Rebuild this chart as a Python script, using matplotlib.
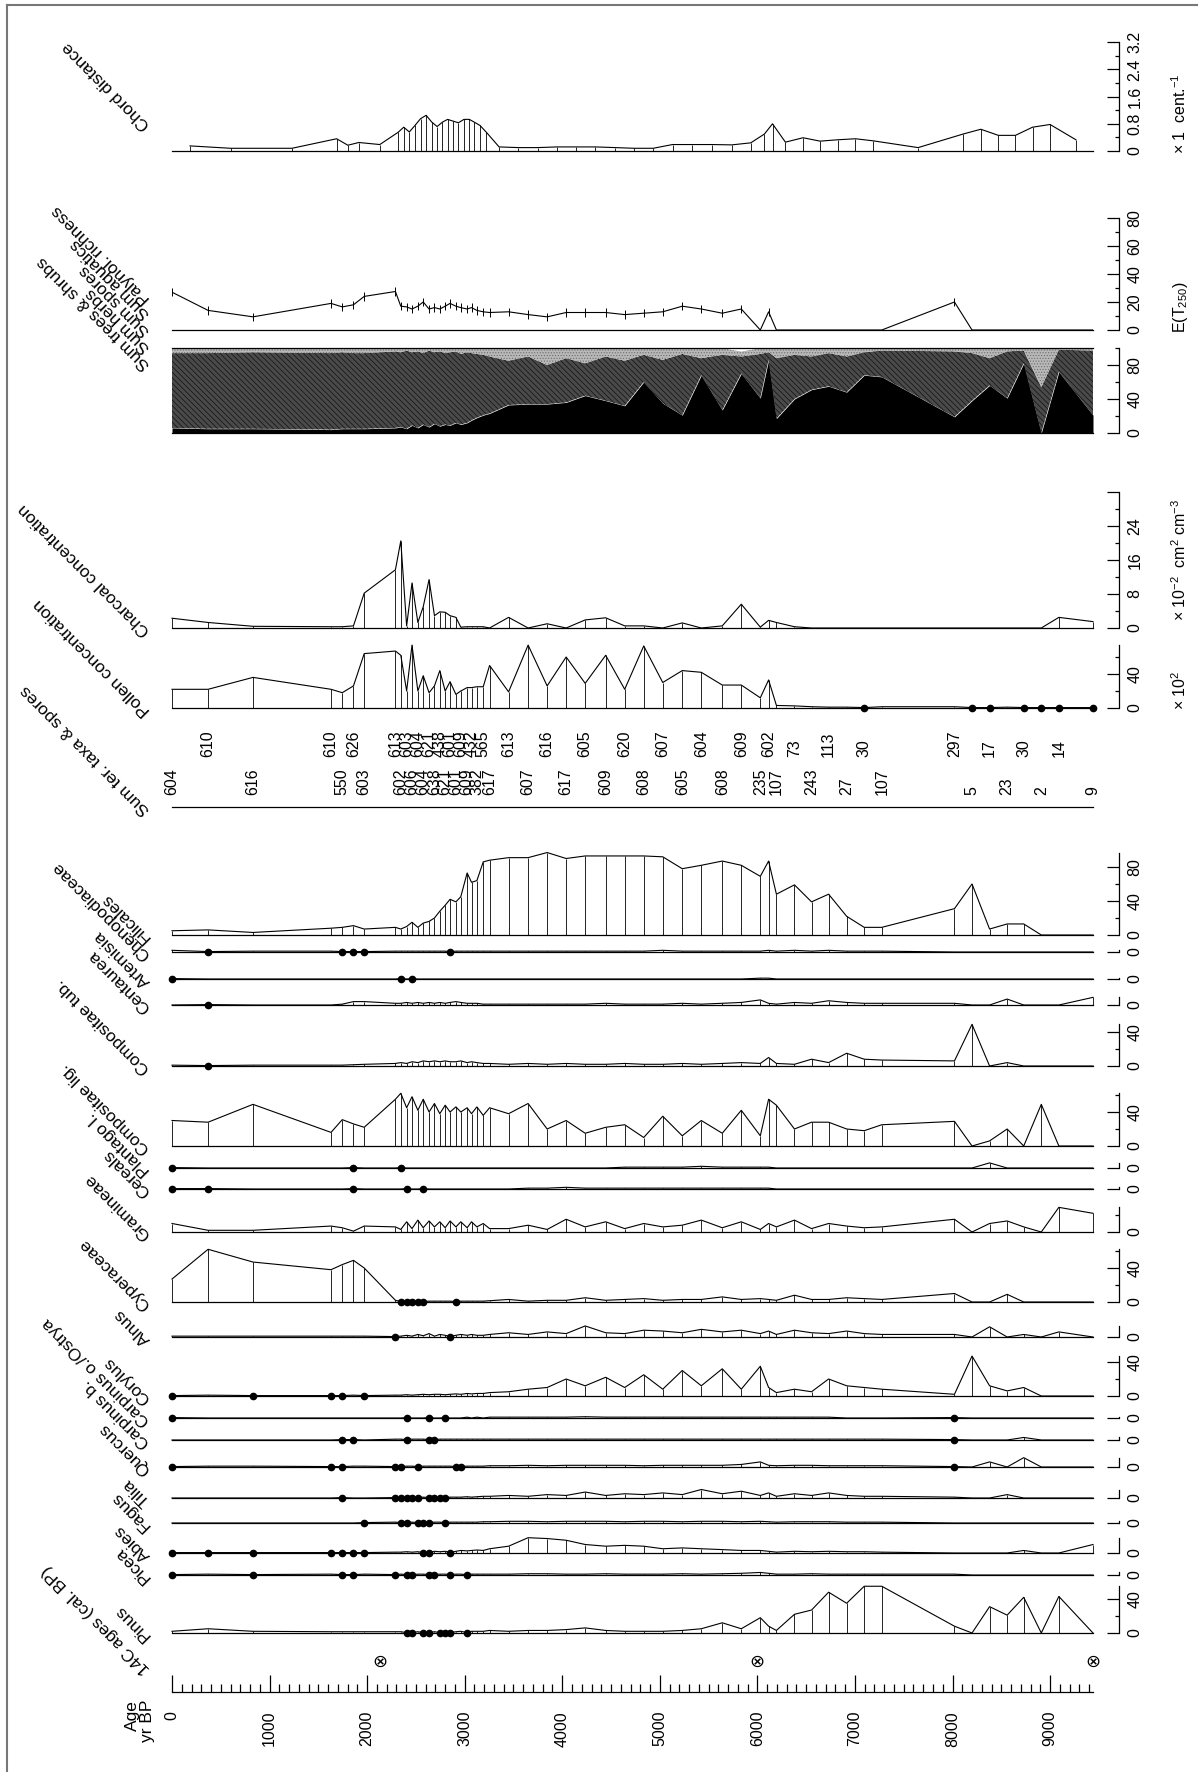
import numpy as np
import matplotlib
matplotlib.use("Agg")
import matplotlib.pyplot as plt
from matplotlib.lines import Line2D
from matplotlib.transforms import blended_transform_factory

plt.rcParams['font.family'] = ['Liberation Sans', 'DejaVu Sans']
plt.rcParams['mathtext.fontset'] = 'custom'
plt.rcParams['mathtext.rm'] = 'Liberation Sans'
plt.rcParams['mathtext.it'] = 'Liberation Sans:italic'
plt.rcParams['hatch.linewidth'] = 0.5

# ---------------- data ----------------
ages = np.array([0, 370, 830, 1630, 1745, 1860, 1970,
                 2290, 2345, 2405, 2460, 2520, 2575, 2635, 2690, 2745, 2800, 2850, 2910, 2960, 3025, 3070, 3125, 3190, 3255,
                 3450, 3650, 3845, 4040, 4235, 4445, 4640, 4835, 5030, 5230, 5425, 5640,
                 5835, 6030, 6115, 6195, 6380, 6555, 6730, 6915, 7095, 7275,
                 8020, 8200, 8380, 8560, 8730, 8910, 9090, 9440])

sum_counts = [604, 610, 616, 610, 550, 626, 603,
              613, 602, 603, 606, 604, 604, 621, 638, 438, 621, 601, 601, 609, 609, 432, 382, 565, 617,
              613, 607, 616, 617, 605, 609, 620, 608, 607, 605, 604, 608,
              609, 235, 602, 107, 73, 243, 113, 27, 30, 107,
              297, 5, 17, 23, 30, 2, 14, 9]

c14_ages = [2130, 6000, 9440]

pinus = [2, 5, 2, 1.5, 1.5, 1.5, 1.5,
         1.5, 1.5, 0.5, 0.5, 1.5, 0.5, 0.5, 1.5, 0.5, 0.5, 0.5, 1.5, 2, 0.5, 2, 2, 2, 3,
         2, 3, 3, 4, 6, 3, 2, 2, 2, 3, 5, 12,
         5, 18, 8, 3, 22, 27, 48, 35, 55, 55,
         8, 0, 31, 21, 42, 0, 43, 0]
picea = [0.5, 1, 0.5, 1, 0.5, 0.5, 1,
         0.5, 1, 0.5, 0.5, 1, 1, 0.5, 0.5, 1, 1, 0.5, 1, 1, 0.5, 1, 1, 1, 1,
         1, 1.5, 1.5, 1, 1, 1.5, 1, 1, 1, 1.5, 1, 1.5,
         2, 3, 2, 1, 1, 1.5, 1, 1, 1, 1,
         1, 0, 0, 0, 0, 0, 0, 0]
abies = [0.5, 0.5, 0.5, 0.5, 0.5, 0.5, 0.5,
         1, 1, 1.5, 1, 1.5, 0.5, 0.5, 2, 1.5, 2, 0.5, 2, 3, 2.5, 3, 3.5, 3, 5,
         8, 18, 17, 15, 10, 8, 9, 8, 5, 6, 5, 4,
         3, 3, 2, 1, 2, 1.5, 2, 1.5, 1.5, 1,
         0, 0, 0, 0, 3, 0, 0, 10]
fagus = [0, 0, 0, 0, 0, 0, 0.5,
         1, 0.5, 0.5, 1, 0.5, 0.5, 0.5, 1, 1, 0.5, 1, 1, 1, 1, 1, 1, 1.5, 1.5,
         2, 2, 1.5, 2, 2, 2, 1.5, 2, 2, 1.5, 2, 2,
         1.5, 2, 1.5, 1, 1.5, 1.5, 1.5, 1, 1, 1,
         0, 0, 0, 0, 0, 0, 0, 0]
tilia = [0, 0, 0, 0, 0.5, 0, 0,
         0.5, 0.5, 0.5, 0.5, 0.5, 1, 0.5, 0.5, 0.5, 0.5, 1, 1, 1, 1.5, 1, 1.5, 2, 2,
         3, 2, 4, 3, 7, 3, 5, 4, 6, 4, 10, 5,
         8, 3, 6, 2, 5, 3, 6, 3, 2, 2,
         1, 0, 0, 4, 0, 0, 0, 0]
quercus = [0.5, 1, 1, 0.5, 0.5, 1, 1,
           0.5, 0.5, 1, 1, 0.5, 1, 1, 1, 1, 1, 1, 0.5, 0.5, 1, 1, 1, 1, 1.5,
           1.5, 2, 1.5, 2, 2, 2, 2, 1.5, 2, 2, 2, 2,
           3, 6, 2, 1.5, 2, 2, 1.5, 1.5, 1.5, 1.5,
           0.5, 0, 6, 0, 11, 0, 0, 0]
carpinus_b = [0, 0, 0, 0, 0.5, 0.5, 0,
              1, 1, 0.5, 1, 1, 1, 0.5, 0.5, 1, 1, 1, 1, 1, 1, 1, 1, 1, 1,
              1, 1, 1, 1, 1, 1, 1, 1, 1, 1, 1, 1,
              1, 1, 1, 1, 1, 1, 1, 1, 1, 1,
              0.5, 0, 0, 0, 3, 0, 0, 0]
carpinus_o = [0.5, 0, 0, 0, 0, 0, 0,
              0, 0, 0.5, 0, 0, 0, 0.5, 0, 0, 0.5, 0, 0, 0, 1, 0, 1, 0, 1,
              1, 1, 1, 1, 1.5, 1, 1, 1, 1, 1, 1, 1,
              1, 1, 1, 1, 1, 1, 1, 0, 0, 0,
              0.5, 0, 0, 0, 0, 0, 0, 0]
corylus = [0.5, 1, 0.5, 0.5, 0.5, 1, 0.5,
           1, 1, 1.5, 1, 1.5, 2, 1.5, 2, 2, 1.5, 2, 2.5, 2, 3, 2.5, 3, 3, 4,
           5, 8, 10, 20, 12, 22, 10, 25, 8, 30, 12, 32,
           8, 35, 10, 4, 8, 5, 20, 12, 10, 8,
           2, 47, 12, 6, 10, 0, 0, 0]
alnus = [1, 1, 1, 1, 1, 1, 1,
         0.5, 1, 2, 1, 3, 1.5, 4, 1, 3, 2, 0.5, 2, 3, 2, 3, 2, 2, 3,
         5, 3, 6, 4, 13, 5, 4, 8, 7, 5, 9, 6,
         8, 4, 7, 3, 8, 5, 4, 7, 4, 3,
         3, 0, 12, 0, 3, 0, 6, 0]
cyperaceae = [27, 62, 47, 38, 44, 49, 40,
              2, 0.5, 0.5, 0.5, 0.5, 0.5, 1, 1, 1, 1, 1, 0.5, 1, 1, 1, 1, 1, 1.5,
              3, 1, 2, 2, 5, 2, 3, 4, 2, 3, 3, 6,
              3, 4, 3, 2, 8, 3, 3, 5, 4, 3,
              10, 0, 0, 9, 0, 0, 0, 0]
gramineae = [10, 2, 2, 7, 5, 1, 7,
             6, 3, 12, 4, 14, 5, 13, 6, 12, 5, 13, 6, 12, 5, 12, 6, 10, 4,
             4, 8, 3, 15, 6, 12, 4, 10, 6, 8, 14, 5,
             12, 3, 10, 6, 14, 4, 10, 7, 5, 6,
             15, 0, 10, 13, 6, 0, 29, 22]
cereals = [0.5, 0.5, 0, 0, 0, 0.5, 0,
           0, 0, 0.5, 0, 0, 0.5, 0, 0, 0, 0, 0, 0, 0, 0, 0, 0, 0, 0,
           0, 1, 1, 2, 1, 1, 1, 1, 1, 1, 1, 1,
           1, 1, 1, 0, 0, 0, 0, 0, 0, 0,
           0, 0, 0, 0, 0, 0, 0, 0]
plantago = [0.5, 0, 0, 0, 0, 0.5, 0,
            0, 0.5, 0, 0, 0, 0, 0, 0, 0, 0, 0, 0, 0, 0, 0, 0, 0, 0,
            0, 0, 0, 0, 0, 0, 1, 1, 1, 1, 2, 1,
            1, 1, 1, 0, 0, 0, 0, 0, 0, 0,
            0, 0, 6, 0, 0, 0, 0, 0]
comp_lig = [30, 28, 49, 16, 31, 26, 22,
            55, 62, 45, 58, 42, 55, 40, 50, 38, 48, 40, 46, 40, 45, 38, 46, 36, 45,
            38, 50, 20, 30, 15, 22, 25, 10, 35, 12, 30, 15,
            42, 12, 55, 48, 20, 28, 28, 20, 18, 25,
            29, 0, 6, 20, 0, 49, 0, 0]
comp_tub = [1, 0.5, 1, 1, 1, 1.5, 2,
            3, 4, 3, 5, 4, 6, 5, 6, 5, 6, 5, 5, 6, 4, 5, 4, 3, 3,
            2, 3, 2, 3, 2, 2, 3, 2, 2, 3, 2, 3,
            4, 3, 10, 3, 2, 8, 4, 15, 8, 7,
            6, 49, 0, 4, 0, 0, 0, 0]
centaurea = [0, 0.5, 0, 0, 1, 4, 4,
             2, 2, 3, 2, 3, 2, 3, 2, 3, 2, 3, 4, 3, 2, 2, 2, 1, 1,
             1, 1, 1, 1, 1, 2, 1, 1, 1, 2, 1, 2,
             3, 6, 2, 1, 3, 2, 5, 3, 2, 2,
             2, 0, 0, 7, 0, 0, 0, 9]
artemisia = [0.5, 0, 0, 0, 0, 0, 0,
             0, 0.5, 0, 0.5, 0, 0, 0, 0, 0, 0, 0, 0, 0, 0, 0, 0, 0, 0,
             0, 0, 0, 0, 0, 0, 0, 0, 0, 0, 0, 0,
             0, 1, 1, 0, 0, 0, 0, 0, 0, 0,
             0, 0, 0, 0, 0, 0, 0, 0]
cheno = [2, 0.5, 1, 1, 0.5, 0.5, 0.5,
         1, 1, 1, 1, 1, 1, 1, 1, 1, 1, 0.5, 1, 1, 1, 1, 1, 1, 1,
         1, 1, 1, 1, 1, 1, 1, 1, 2, 1, 1, 1,
         1, 1, 2, 1, 2, 1, 2, 1, 1, 1,
         0, 0, 0, 0, 0, 0, 0, 0]
filicales = [5, 6, 3, 8, 9, 11, 7,
             9, 7, 10, 15, 9, 14, 16, 20, 28, 35, 42, 39, 45, 73, 62, 64, 86, 88,
             91, 91, 97, 90, 93, 93, 93, 93, 92, 78, 82, 87,
             82, 69, 87, 48, 59, 39, 48, 22, 9, 9,
             31, 60, 7, 13, 13, 0, 0, 0]
pollen_conc = [22, 22, 36, 22, 18, 26, 64,
               67, 62, 20, 74, 20, 38, 18, 26, 44, 20, 31, 16, 20, 24, 24, 25, 25, 50,
               19, 74, 26, 60, 29, 62, 22, 73, 30, 44, 42, 27,
               27, 12, 33, 3, 2.5, 1.5, 1, 1, 0.5, 1.5,
               1.5, 0.5, 0.5, 1, 0.5, 0.5, 0.5, 0.5]
charcoal = [2.3, 1.3, 0.4, 0.3, 0.3, 0.5, 8.2,
            13.7, 20.5, 0.5, 10.6, 1.3, 5, 11.4, 2.9, 3.8, 3.7, 2.9, 2.5, 0.2, 0.3, 0.3, 0.3, 0.3, 0,
            2.5, 0, 1, 0, 1.9, 2.4, 0.5, 0.5, 0, 1.2, 0, 0.5,
            5.6, 0.2, 1.8, 1.3, 0.3, 0, 0, 0, 0, 0,
            0, 0, 0, 0, 0, 0, 2.5, 1.5]
sum_trees = [6, 5, 5, 4, 5, 5, 5,
             6, 7, 5, 9, 6, 10, 7, 11, 8, 10, 9, 12, 10, 12, 15, 18, 21, 23,
             33, 34, 34, 36, 44, 38, 32, 60, 35, 21, 68, 27,
             70, 41, 86, 17, 40, 51, 55, 48, 68, 66,
             19, 38, 56, 41, 82, 0, 72, 21]
cum_herbs = [94, 94, 95, 94, 95, 94, 94,
             96, 95, 97, 95, 96, 94, 97, 95, 96, 94, 95, 96, 93, 95, 94, 93, 92, 90,
             85, 90, 80, 88, 82, 90, 85, 92, 86, 93, 88, 92,
             90, 93, 95, 88, 92, 90, 94, 90, 95, 97,
             96, 94, 88, 96, 97, 54, 98, 97]
cum_spores = [100, 100, 100, 100, 100, 100, 100,
              100, 100, 100, 100, 100, 100, 100, 100, 100, 100, 100, 100, 100, 100, 100, 100, 100, 100,
              100, 100, 100, 100, 100, 100, 100, 100, 100, 100, 100, 100,
              96, 100, 100, 100, 100, 100, 100, 100, 100, 100,
              100, 100, 100, 100, 100, 100, 100, 100]
richness = [27, 14, 9.4, 19, 16.5, 18, 24,
            27.5, 17, 16.5, 15, 17, 20, 15, 16, 15, 17, 19, 17, 16, 15, 16, 14, 13, 12.5,
            13, 11, 9.4, 12.5, 12.5, 12.5, 11, 12, 13, 17, 15, 12,
            15, 0, 13, 0, 0, 0, 0, 0, 0, 0,
            20, 0, 0, 0, 0, 0, 0, 0]
# chord distance between consecutive samples
chord = [0.15, 0.08, 0.08, 0.36, 0.17, 0.25, 0.19,
         0.55, 0.70, 0.56, 0.75, 0.95, 1.05, 0.85, 0.72, 0.85, 0.93, 0.88, 0.83, 0.93, 0.93, 0.85, 0.75, 0.55,
         0.12, 0.10, 0.10, 0.12, 0.12, 0.12, 0.10, 0.08, 0.08, 0.19, 0.19, 0.19, 0.18,
         0.24, 0.50, 0.80, 0.26, 0.39, 0.29, 0.33, 0.36, 0.30,
         0.10, 0.50, 0.64, 0.46, 0.46, 0.70, 0.78, 0.33]

# (name, baseline pixel row, values)
taxa = [
    ("Filicales", 935, filicales),
    ("Chenopodiaceae", 952, cheno),
    ("Artemisia", 979, artemisia),
    ("Centaurea", 1005, centaurea),
    ("Compositae tub.", 1066, comp_tub),
    ("Compositae lig.", 1146, comp_lig),
    ("Plantago l.", 1168, plantago),
    ("Cereals", 1189, cereals),
    ("Gramineae", 1232, gramineae),
    ("Cyperaceae", 1302, cyperaceae),
    ("Alnus", 1337, alnus),
    ("Corylus", 1396, corylus),
    ("Carpinus o./Ostrya", 1418, carpinus_o),
    ("Carpinus b.", 1440, carpinus_b),
    ("Quercus", 1467, quercus),
    ("Tilia", 1498, tilia),
    ("Fagus", 1523, fagus),
    ("Abies", 1553, abies),
    ("Picea", 1575, picea),
    ("Pinus", 1633, pinus),
]

# ---------------- layout ----------------
W, H = 1200, 1772
X0, X1 = 172, 1093
AGE_MAX = 9440
PT = 72 / 100.0  # points per pixel
FS = 11.5
FS_LAB = 12.5

fig = plt.figure(figsize=(W / 100, H / 100), dpi=100)


def fx(x):
    return x / W


def fy(y):
    return 1 - y / H


def make_panel(base_y, px_per_unit, top):
    h = top * px_per_unit
    ax = fig.add_axes([fx(X0), fy(base_y), (X1 - X0) / W, h / H])
    ax.set_xlim(0, AGE_MAX)
    ax.set_ylim(0, top)
    ax.patch.set_visible(False)
    for s in ("top", "bottom", "left", "right"):
        ax.spines[s].set_visible(False)
    ax.xaxis.set_visible(False)
    ax.set_yticks([])
    return ax


def right_axis(ax, top, majors, minors, labels):
    sp = ax.spines["right"]
    sp.set_visible(True)
    sp.set_position(("outward", 26 * PT))
    sp.set_bounds(0, top)
    sp.set_linewidth(0.9)
    ax.yaxis.tick_right()
    ax.set_yticks(majors)
    ax.set_yticks(minors, minor=True)
    ax.set_yticklabels(labels)
    ax.tick_params(axis="y", which="major", direction="in", length=12 * PT,
                   width=0.9, pad=6, labelsize=FS)
    ax.tick_params(axis="y", which="minor", direction="in", length=4 * PT, width=0.9)
    for t in ax.get_yticklabels():
        t.set_rotation(90)
        t.set_va("center")


def pct_axis(ax, top):
    majors = [t for t in (0, 40, 80) if t <= top + 0.01]
    minors = [t for t in (20, 60) if t <= top + 0.01]
    right_axis(ax, top, majors, minors, [str(t) for t in majors])


def draw_curve(ax, x, v, dots=True):
    v = np.asarray(v, dtype=float)
    ax.plot([0, AGE_MAX], [0, 0], color="k", lw=0.9, clip_on=False)
    ax.plot(x, v, color="k", lw=0.8, clip_on=False)
    ax.vlines(x, 0, v, color="k", lw=0.6, clip_on=False)
    if dots:
        small = (v > 0) & (v < 1)
        ax.plot(x[small], np.zeros(small.sum()), "o", ms=4.5, color="k", clip_on=False)


def left_label(text, y, x=151):
    fig.text(fx(x), fy(y), text, rotation=135, rotation_mode="anchor",
             ha="left", va="baseline", fontsize=FS_LAB)


# frame
fig.add_artist(Line2D([fx(7), fx(1197)], [fy(5), fy(5)], color="#777777", lw=1.5))
fig.add_artist(Line2D([fx(7), fx(7)], [fy(5), fy(1772)], color="#777777", lw=1.5))

# pollen taxa
for name, yb, vals in taxa:
    top = max(max(vals), 1.0)
    ax = make_panel(yb, 0.85, top)
    draw_curve(ax, ages, vals)
    pct_axis(ax, top)
    left_label(name, yb + 2)

# sum of terrestrial taxa & spores
ax_sum = make_panel(807, 1.0, 1.0)
ax_sum.plot([0, AGE_MAX], [0, 0], color="k", lw=0.9, clip_on=False)
tr = blended_transform_factory(ax_sum.transData, fig.transFigure)
for i, (a, n) in enumerate(zip(ages, sum_counts)):
    yrow = 795 if i % 2 == 0 else 757
    ax_sum.text(a, fy(yrow), str(n), transform=tr, rotation=90, rotation_mode="anchor",
                ha="left", va="center", fontsize=FS)
left_label("Sum ter. taxa & spores", 809)

# pollen concentration
top = max(pollen_conc)
ax = make_panel(708, 0.85, top)
draw_curve(ax, ages, pollen_conc)
pct_axis(ax, top)
left_label("Pollen concentration", 710)
fig.text(fx(1180), fy(690), r"$\times$ 10$^{2}$", rotation=90, ha="center", va="center", fontsize=FS)

# charcoal concentration
ax = make_panel(628, 4.25, 32)
draw_curve(ax, ages, charcoal, dots=False)
right_axis(ax, 32, [0, 8, 16, 24, 32], [4, 12, 20, 28], ["0", "8", "16", "24", ""])
left_label("Charcoal concentration", 630)
fig.text(fx(1180), fy(560), r"$\times$ 10$^{-2}$  cm$^{2}$ cm$^{-3}$", rotation=90,
         ha="center", va="center", fontsize=FS)

# stacked sums
ax = make_panel(433, 0.85, 100)
ax.fill_between(ages, 0, sum_trees, color="black", lw=0)
ax.fill_between(ages, sum_trees, cum_herbs, facecolor="#4a4a4a", edgecolor="#111111",
                hatch="\\\\\\\\\\\\", lw=0)
ax.fill_between(ages, cum_herbs, cum_spores, facecolor="#b8b8b8", edgecolor="#6e6e6e",
                hatch="......", lw=0)
ax.fill_between(ages, cum_spores, 100, facecolor="white", lw=0)
ax.plot([0, AGE_MAX], [100, 100], color="k", lw=0.9, clip_on=False)
ax.plot([0, AGE_MAX], [0, 0], color="k", lw=0.9, clip_on=False)
right_axis(ax, 100, [0, 40, 80], [20, 60, 100], ["0", "40", "80"])
for name, y in [("Sum trees & shrubs", 364), ("Sum herbs", 347), ("Sum spores", 330),
                ("Sum aquatics", 313)]:
    left_label(name, y)

# palynological richness
ax = make_panel(330, 1.4, 80)
rich = np.asarray(richness, dtype=float)
ax.plot([0, AGE_MAX], [0, 0], color="k", lw=0.9, clip_on=False)
ax.plot(ages, rich, color="k", lw=0.8)
nz = rich > 0
ax.errorbar(ages[nz], rich[nz], yerr=3.0, fmt="none", ecolor="k", elinewidth=0.7, capsize=0)
right_axis(ax, 80, [0, 20, 40, 60, 80], [10, 30, 50, 70], ["0", "20", "40", "60", "80"])
left_label("Palynol. richness", 298)
fig.text(fx(1180), fy(307), r"E(T$_{250}$)", rotation=90, ha="center", va="center", fontsize=FS)

# chord distance
mids = (ages[:-1] + ages[1:]) / 2.0
ax = make_panel(151, 34, 3.2)
draw_curve(ax, mids, chord, dots=False)
right_axis(ax, 3.2, [0, 0.8, 1.6, 2.4, 3.2], [0.4, 1.2, 2.0, 2.8],
           ["0", "0.8", "1.6", "2.4", "3.2"])
left_label("Chord distance", 124)
fig.text(fx(1180), fy(114), r"$\times$ 1  cent.$^{-1}$", rotation=90, ha="center",
         va="center", fontsize=FS)

# age axis
ax_age = fig.add_axes([fx(X0), fy(1692), (X1 - X0) / W, 20 / H])
ax_age.set_xlim(0, AGE_MAX)
ax_age.set_ylim(0, 1)
ax_age.patch.set_visible(False)
for s in ("top", "left", "right"):
    ax_age.spines[s].set_visible(False)
ax_age.spines["bottom"].set_linewidth(0.9)
ax_age.set_yticks([])
ax_age.set_xticks(range(0, 10000, 1000))
ax_age.set_xticks([m for m in range(0, 9450, 100) if m % 1000], minor=True)
ax_age.set_xticklabels([])
ax_age.tick_params(axis="x", which="major", direction="in", length=17 * PT, width=0.9)
ax_age.tick_params(axis="x", which="minor", direction="in", length=8 * PT, width=0.9)
tr_age = blended_transform_factory(ax_age.transData, fig.transFigure)
for a in range(0, 10000, 1000):
    ax_age.text(a, fy(1711), str(a), transform=tr_age, rotation=90, rotation_mode="anchor",
                ha="right", va="center", fontsize=FS)
for a in c14_ages:
    ax_age.text(a, fy(1662), "\u2297", transform=tr_age, ha="center", va="center",
                fontsize=13, family=["DejaVu Sans"])
fig.text(fx(140), fy(1700), "Age\nyr BP", rotation=90, rotation_mode="anchor",
         ha="right", va="center", multialignment="right", fontsize=FS + 1, linespacing=1.0)
left_label("14C ages (cal. BP)", 1668)

fig.savefig("out.png", dpi=100)
